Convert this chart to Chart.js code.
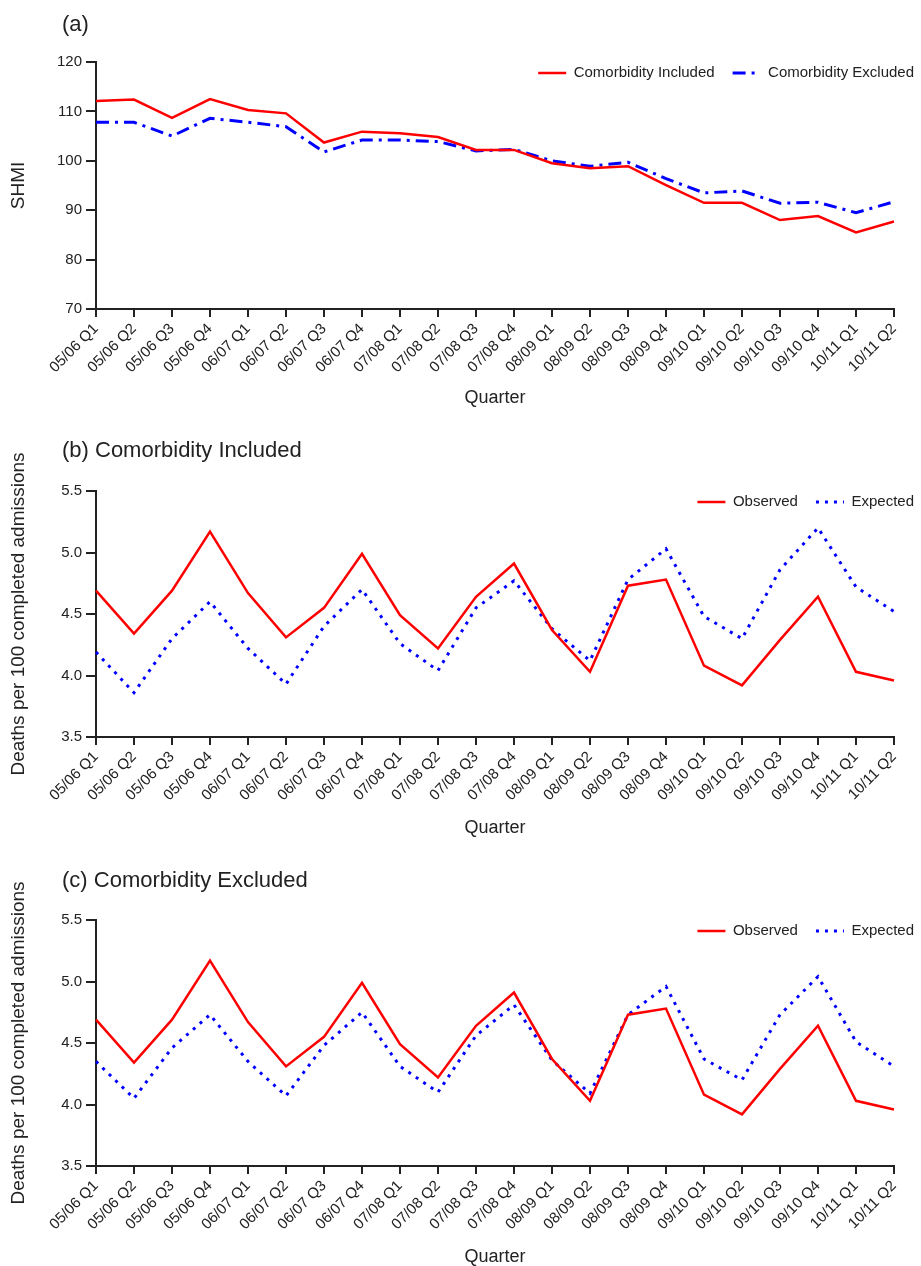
<!DOCTYPE html>
<html>
<head>
<meta charset="utf-8">
<script src="https://cdn.jsdelivr.net/npm/chart.js@4.4.0/dist/chart.umd.min.js"></script>
<style>
body{margin:0;background:#fff;width:921px;height:1266px;position:relative;overflow:hidden;font-family:'Liberation Sans',Arial,sans-serif;}
.panel{position:absolute;left:0;width:921px;}
.ttl{position:absolute;left:62px;font-size:22px;line-height:22px;color:#222;white-space:nowrap;}
</style>
</head>
<body>
<div class="panel" style="top:0;height:420px"><canvas id="chartA"></canvas></div>
<div class="panel" style="top:420px;height:425px"><canvas id="chartB"></canvas></div>
<div class="panel" style="top:850px;height:416px"><canvas id="chartC"></canvas></div>
<div class="ttl" style="top:13px">(a)</div>
<div class="ttl" style="top:439px">(b) Comorbidity Included</div>
<div class="ttl" style="top:869px">(c) Comorbidity Excluded</div>
<script>
// quarters on the x axis
var quarters = ['05/06 Q1','05/06 Q2','05/06 Q3','05/06 Q4','06/07 Q1','06/07 Q2','06/07 Q3','06/07 Q4',
	'07/08 Q1','07/08 Q2','07/08 Q3','07/08 Q4','08/09 Q1','08/09 Q2','08/09 Q3','08/09 Q4',
	'09/10 Q1','09/10 Q2','09/10 Q3','09/10 Q4','10/11 Q1','10/11 Q2'];

// (a) SHMI
var shmiIncluded = [112.1, 112.4, 108.7, 112.5, 110.3, 109.6, 103.7, 105.9, 105.6, 104.8, 102.2,
	102.2, 99.5, 98.5, 98.9, 95.1, 91.5, 91.5, 88.0, 88.8, 85.5, 87.7];
var shmiExcluded = [107.8, 107.8, 105.0, 108.6, 107.8, 106.9, 101.8, 104.2, 104.2, 103.9, 102.0,
	102.3, 100.0, 98.9, 99.7, 96.4, 93.5, 93.9, 91.4, 91.6, 89.5, 91.7];

// (b) / (c) deaths per 100 completed admissions
var observed = [4.69, 4.34, 4.69, 5.17, 4.67, 4.31, 4.55, 4.99, 4.49, 4.22, 4.64,
	4.91, 4.37, 4.03, 4.73, 4.78, 4.08, 3.92, 4.29, 4.64, 4.03, 3.96];
var expectedIncluded = [4.19, 3.86, 4.30, 4.60, 4.22, 3.93, 4.40, 4.70, 4.26, 4.04, 4.55,
	4.77, 4.38, 4.12, 4.78, 5.03, 4.48, 4.30, 4.86, 5.20, 4.72, 4.52];
var expectedExcluded = [4.35, 4.05, 4.46, 4.73, 4.35, 4.07, 4.48, 4.75, 4.31, 4.10, 4.56,
	4.81, 4.36, 4.09, 4.73, 4.96, 4.37, 4.20, 4.73, 5.04, 4.51, 4.31];

var RED = '#ff0000';
var BLUE = '#0000ff';
var INK = '#222';

Chart.defaults.font.family = "'Liberation Sans', Arial, sans-serif";
Chart.defaults.color = INK;

// move the legend into the top right corner of the plot
var legendSpot = {
	id: 'legendSpot',
	afterLayout: function(chart){
		var lg = chart.legend;
		var top = chart.chartArea.top - 14.5;
		lg.top = top;
		lg.bottom = top + 45;
		lg.height = 45;
		lg.right = 932;
		lg.width = lg.right - lg.left;
	}
};

function lineSet(label, data, color, width, dash){
	return {
		label: label,
		data: data,
		borderColor: color,
		backgroundColor: color,
		borderWidth: width,
		borderDash: dash,
		pointRadius: 0,
		tension: 0,
		fill: false,
	};
}

function makeChart(id, opt){
	var axisGrid = function(len){
		return {drawOnChartArea: false, drawTicks: true, tickLength: len, tickWidth: 2, tickColor: INK, lineWidth: 2};
	};
	return new Chart(document.getElementById(id), {
		type: 'line',
		data: {
			labels: quarters,
			datasets: opt.datasets,
		},
		options: {
			responsive: true,
			maintainAspectRatio: false,
			animation: false,
			layout: {padding: {top: opt.padTop, right: 27, bottom: 0, left: 0}},
			plugins: {
				tooltip: {enabled: false},
				legend: {
					position: 'top',
					align: 'end',
					maxHeight: 1,
					labels: {
						usePointStyle: true,
						pointStyle: 'line',
						pointStyleWidth: 28,
						padding: 18,
						color: INK,
						font: {size: 15},
						generateLabels: function(chart){
							var items = Chart.defaults.plugins.legend.labels.generateLabels(chart);
							items.forEach(function(it){
								var ds = chart.data.datasets[it.datasetIndex];
								it.lineDash = ds.borderDash || [];
								it.lineWidth = ds.borderWidth;
								it.strokeStyle = ds.borderColor;
							});
							return items;
						},
					},
				},
			},
			scales: {
				x: {
					grid: axisGrid(8),
					border: {color: INK, width: 2},
					ticks: {autoSkip: false, minRotation: 45, maxRotation: 45, padding: 3, color: INK, font: {size: 15}},
					title: {display: true, text: 'Quarter', color: INK, font: {size: 18, lineHeight: 1}, padding: {top: 0, bottom: opt.qPad}},
					afterFit: function(s){ s.height = opt.xHeight; },
				},
				y: {
					min: opt.yMin,
					max: opt.yMax,
					grid: axisGrid(10),
					border: {color: INK, width: 2},
					ticks: {
						stepSize: opt.step,
						padding: 4,
						color: INK,
						font: {size: 15},
						callback: function(v){ return v.toFixed(opt.dec); },
					},
					title: {display: true, text: opt.yTitle, color: INK, font: {size: 19, lineHeight: 1}, padding: {top: 9.5, bottom: 0}},
					afterFit: function(s){ s.width = 96; },
				},
			},
		},
		plugins: [legendSpot],
	});
}

makeChart('chartA', {
	datasets: [
		lineSet('Comorbidity Included', shmiIncluded, RED, 2.5, []),
		lineSet('Comorbidity Excluded', shmiExcluded, BLUE, 3, [13, 6, 3, 6]),
	],
	padTop: 61, xHeight: 111, qPad: 13,
	yMin: 70, yMax: 120, step: 10, dec: 0, yTitle: 'SHMI',
});

makeChart('chartB', {
	datasets: [
		lineSet('Observed', observed, RED, 2.5, []),
		lineSet('Expected', expectedIncluded, BLUE, 3, [3, 6]),
	],
	padTop: 70, xHeight: 108, qPad: 8,
	yMin: 3.5, yMax: 5.5, step: 0.5, dec: 1, yTitle: 'Deaths per 100 completed admissions',
});

makeChart('chartC', {
	datasets: [
		lineSet('Observed', observed, RED, 2.5, []),
		lineSet('Expected', expectedExcluded, BLUE, 3, [3, 6]),
	],
	padTop: 69, xHeight: 100, qPad: 0,
	yMin: 3.5, yMax: 5.5, step: 0.5, dec: 1, yTitle: 'Deaths per 100 completed admissions',
});
</script>
</body>
</html>
